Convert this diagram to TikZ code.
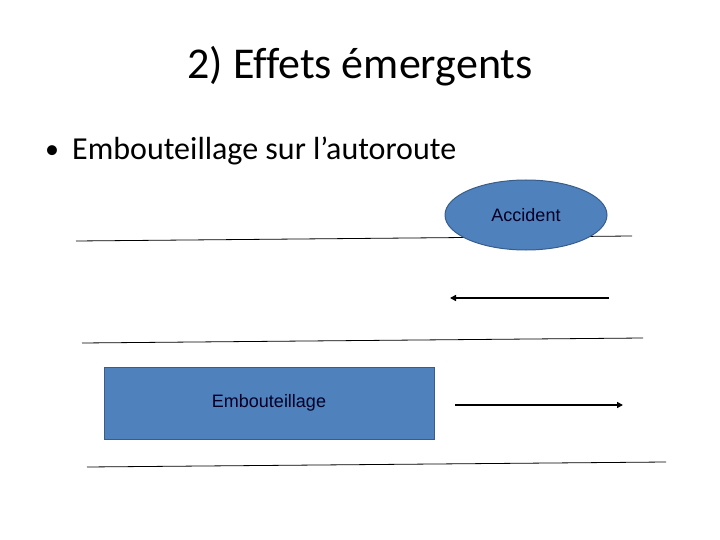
\documentclass[tikz,border=0pt]{standalone}
\usepackage{fontspec}
\setmainfont{Carlito}[Ligatures=CommonOff]
\newfontfamily\arialfont{Liberation Sans}
\usetikzlibrary{shapes.geometric,arrows.meta,positioning}

\definecolor{boxfill}{RGB}{79,129,189}
\definecolor{boxline}{RGB}{56,93,138}

\begin{document}
\begin{tikzpicture}[
    x=1pt, y=-1pt, % pixel grid, y down
    > = {Triangle[length=6pt,width=6pt]}, % arrow head style
    road/.style = {line width=0.8pt},
    flow/.style = {->, line width=1.8pt},
    blob/.style = {fill=boxfill, draw=boxline, line width=1pt, text=black!85!blue,
                   font=\arialfont\fontsize{18}{22}\selectfont},
]
\useasboundingbox (0,0) rectangle (720,540);

% titles
\node[anchor=base] (title) at (360,79) {\fontsize{44}{53}\selectfont 2) Effets émergents};
\node[anchor=base west, inner sep=0] (bullet) at (45,159) {\fontsize{28}{34}\selectfont •};
\node[anchor=base west, inner sep=0] (item) at (72,160) {\fontsize{32}{38}\selectfont Embouteillage sur l’autoroute};

% road edges
\coordinate (r1a) at (76,241);  \coordinate (r1b) at (632,236);
\coordinate (r2a) at (82,343);  \coordinate (r2b) at (643,338);
\coordinate (r3a) at (87,467);  \coordinate (r3b) at (666,462);
\draw[road] (r1a) -- (r1b);
\draw[road] (r2a) -- (r2b);
\draw[road] (r3a) -- (r3b);

% accident and jam
\node[blob, ellipse, minimum width=162pt, minimum height=70pt, inner sep=0] (acc) at (526,215) {Accident};
\node[blob, rectangle, minimum width=330pt, minimum height=72pt, inner sep=0] (jam) at (269,403) {Embouteillage};

% directions
\coordinate (a1) at (609,298); \coordinate (b1) at (450,298);
\coordinate (a2) at (455,405); \coordinate (b2) at (623,405);
\draw[flow] (a1) -- (b1);
\draw[flow] (a2) -- (b2);
\end{tikzpicture}
\end{document}
